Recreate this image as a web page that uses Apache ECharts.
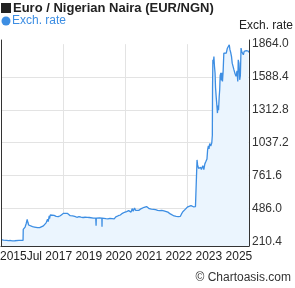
<!DOCTYPE html>
<html>
<head>
<meta charset="utf-8">
<script src="https://cdn.jsdelivr.net/npm/echarts@6/dist/echarts.min.js"></script>
<style>
html,body{margin:0;padding:0;background:#fff;}
#c{width:295px;height:288px;}
</style>
</head>
<body>
<div id="c"></div>
<script>
var titleText = 'Euro / Nigerian Naira (EUR/NGN)';
var seriesName = 'Exch. rate';
var yTicks = [210.4, 486.0, 761.6, 1037.2, 1312.8, 1588.4, 1864.0];
var xTickLabels = ['2015', 'Jul 2017', '2019', '2020', '2021', '2022', '2023', '2025'];
var dates = [
'2015-07-27','2015-08-10','2015-09-01','2015-10-15','2015-11-15','2015-12-15','2016-01-15','2016-02-15','2016-03-15','2016-04-15','2016-05-15','2016-06-15',
'2016-06-18','2016-07-15','2016-08-01','2016-08-15','2016-08-25','2016-09-05','2016-10-01','2016-11-01','2016-12-01','2016-12-20','2017-01-15','2017-02-15','2017-03-15','2017-04-10','2017-05-01','2017-05-20','2017-06-10','2017-06-20','2017-07-05','2017-07-10','2017-07-20','2017-08-15','2017-09-15','2017-10-15','2017-11-15','2017-12-15',
'2018-01-10','2018-02-01','2018-03-01','2018-04-01','2018-04-20','2018-05-10','2018-06-15','2018-07-15','2018-08-15','2018-09-15','2018-10-15','2018-11-15','2018-12-15',
'2019-01-15','2019-02-15','2019-03-15','2019-04-15','2019-05-20','2019-05-25','2019-05-28','2019-06-15','2019-07-15','2019-08-18','2019-08-20','2019-08-22','2019-09-15','2019-10-15','2019-11-15','2019-12-15',
'2020-01-15','2020-02-15','2020-03-10','2020-03-25','2020-04-15','2020-05-15','2020-06-15','2020-07-15','2020-08-15','2020-09-15','2020-10-01','2020-10-20','2020-11-05','2020-11-20','2020-12-10','2020-12-25',
'2021-01-15','2021-02-10','2021-03-01','2021-03-20','2021-04-10','2021-05-01','2021-05-20','2021-06-05','2021-06-20','2021-07-15','2021-08-15','2021-09-15','2021-10-15','2021-11-15','2021-12-15',
'2022-01-15','2022-02-15','2022-03-15','2022-04-15','2022-05-01','2022-05-20','2022-06-15','2022-07-15','2022-08-15','2022-09-15','2022-10-15','2022-11-01','2022-11-20','2022-12-10','2022-12-25',
'2023-01-15','2023-02-01','2023-02-15','2023-03-01','2023-03-20','2023-04-10','2023-04-25','2023-05-10','2023-05-25','2023-06-10','2023-06-15',
'2023-06-17','2023-06-25','2023-07-10','2023-07-25','2023-08-10','2023-08-20','2023-09-10','2023-09-25','2023-10-10','2023-10-25','2023-11-10','2023-11-20','2023-12-01','2023-12-10','2023-12-20',
'2024-01-05','2024-01-20','2024-01-28','2024-01-31','2024-02-05','2024-02-12','2024-02-20','2024-02-28','2024-03-08','2024-03-15','2024-03-25','2024-04-05','2024-04-12','2024-04-20','2024-04-28',
'2024-05-08','2024-05-15','2024-05-22','2024-06-01','2024-06-10','2024-06-18','2024-06-25','2024-07-05','2024-07-15','2024-07-25','2024-08-05','2024-08-20','2024-09-05','2024-09-20','2024-10-03','2024-10-12','2024-10-25',
'2024-11-05','2024-11-15','2024-11-28','2024-12-10','2024-12-25','2025-01-10','2025-01-25','2025-02-05','2025-02-12','2025-02-22','2025-03-05','2025-03-15','2025-03-25','2025-04-05','2025-04-15','2025-04-28','2025-05-10','2025-05-25','2025-06-10','2025-06-25','2025-07-10','2025-07-20'
];
var rates = [
224,227,220,218,216,217,214,215,216,219,218,218,
310,330,360,395,370,347,340,333,330,322,325,325,327,340,350,365,395,375,423,400,431,431,428,420,417,425,
440,445,445,444,440,425,423,420,412,418,413,410,412,
411,410,408,405,404,341,405,410,407,405,333,404,402,400,399,402,
400,398,415,410,425,431,445,454,460,468,480,455,485,462,490,470,
480,470,462,485,488,496,501,502,490,484,480,478,476,470,467,
470,466,462,455,445,440,434,423,420,418,420,440,458,470,478,
490,500,495,505,510,507,500,490,502,494,490,
893,851,823,837,830,812,845,812,860,879,900,980,1010,985,1030,
1010,1037,1100,1500,1733,1700,1761,1680,1622,1500,1420,1340,1286,1350,1310,
1425,1480,1600,1623,1560,1623,1551,1640,1788,1775,1803,1790,1830,1815,1859,1820,1792,
1760,1705,1690,1650,1620,1594,1640,1551,1733,1705,1565,1600,1831,1800,1815,1775,1803,1790,1810,1800,1805,1795
];

var xMin = Date.UTC(2015, 6, 27);
var xMax = Date.UTC(2025, 6, 20);
var yLo = 171, yHi = 1899;
var yStep = yTicks[1] - yTicks[0];
var data = dates.map(function (d, i) {
  var p = d.split('-');
  return [Date.UTC(+p[0], +p[1] - 1, +p[2]), rates[i]];
});

var G = {left: 1, right: 46, top: 40, bottom: 42};
var plotH = 288 - G.top - G.bottom;
var bandTop = G.top + (yHi - yTicks[yTicks.length - 1]) / (yHi - yLo) * plotH;
var bandBottom = G.bottom + (yTicks[0] - yLo) / (yHi - yLo) * plotH;
var gridCol = '#e3e3e3';

var chart = echarts.init(document.getElementById('c'), null, {renderer: 'canvas'});
var font = 'Arial, "Liberation Sans", sans-serif';
chart.setOption({
  animation: false,
  backgroundColor: '#fff',
  textStyle: {fontFamily: font},
  grid: [
    {left: G.left, right: G.right, top: G.top, bottom: G.bottom, containLabel: false, z: 2},
    {left: G.left, right: G.right, top: bandTop, bottom: bandBottom, containLabel: false, z: 0}
  ],
  xAxis: [{
    gridIndex: 0,
    type: 'value',
    min: xMin,
    max: xMax,
    z: 5,
    axisLine: {show: true, lineStyle: {color: '#333', width: 1}},
    axisTick: {show: false},
    axisLabel: {show: false},
    splitLine: {show: false}
  }, {
    gridIndex: 1,
    type: 'value',
    min: xMin,
    max: xMax,
    interval: (xMax - xMin) / 4,
    z: 0,
    axisLine: {show: false},
    axisTick: {show: false},
    axisLabel: {show: false},
    splitLine: {show: true, showMinLine: false, showMaxLine: false, lineStyle: {color: gridCol, width: 1}}
  }],
  yAxis: [{
    gridIndex: 0,
    type: 'value',
    position: 'right',
    min: yLo,
    max: yHi,
    z: 5,
    axisLine: {show: true, lineStyle: {color: '#333', width: 1}},
    axisTick: {show: false},
    axisLabel: {show: false},
    splitLine: {show: false}
  }, {
    gridIndex: 0,
    type: 'value',
    position: 'left',
    min: yLo,
    max: yHi,
    z: 5,
    axisLine: {show: true, lineStyle: {color: '#333', width: 1}},
    axisTick: {show: false},
    axisLabel: {show: false},
    splitLine: {show: false}
  }, {
    gridIndex: 1,
    type: 'value',
    position: 'right',
    min: yTicks[0],
    max: yTicks[yTicks.length - 1],
    interval: yStep,
    z: 0,
    axisLine: {show: false},
    axisTick: {show: false},
    axisLabel: {
      show: true,
      color: '#333',
      fontSize: 12,
      fontFamily: font,
      margin: 3,
      formatter: function (v) { return v.toFixed(1); }
    },
    splitLine: {show: true, showMinLine: false, showMaxLine: false, lineStyle: {color: gridCol, width: 1}}
  }],
  series: [{
    name: seriesName,
    type: 'line',
    xAxisIndex: 0,
    yAxisIndex: 0,
    z: 3,
    data: data,
    showSymbol: false,
    symbol: 'none',
    lineStyle: {color: '#3d8ee3', width: 1.3},
    areaStyle: {color: '#ebf5fe', opacity: 1},
    clip: true
  }],
  graphic: [
    {type: 'rect', left: 1, top: 3, shape: {width: 10, height: 10}, style: {fill: '#222'}},
    {type: 'text', left: 13, top: 2, style: {text: titleText, font: 'bold 13px "Liberation Sans Narrow", "Arial Narrow", Arial, sans-serif', fill: '#222'}},
    {type: 'circle', shape: {cx: 6, cy: 21, r: 4.5}, style: {fill: '#3d8ee3'}},
    {type: 'text', left: 12, top: 15, style: {text: seriesName, font: '12px ' + font, fill: '#3d8ee3'}},
    {type: 'text', right: 2, top: 20, style: {text: seriesName, font: '12px ' + font, fill: '#222'}},
    {type: 'text', left: 0, top: 251, style: {text: xTickLabels[0] + xTickLabels.slice(1).join(' '), font: '12px ' + font, fill: '#222'}},
    {type: 'text', right: 4, top: 272, style: {text: '\u00a9 Chartoasis.com', font: '12px ' + font, fill: '#333'}}
  ]
});
</script>
</body>
</html>
